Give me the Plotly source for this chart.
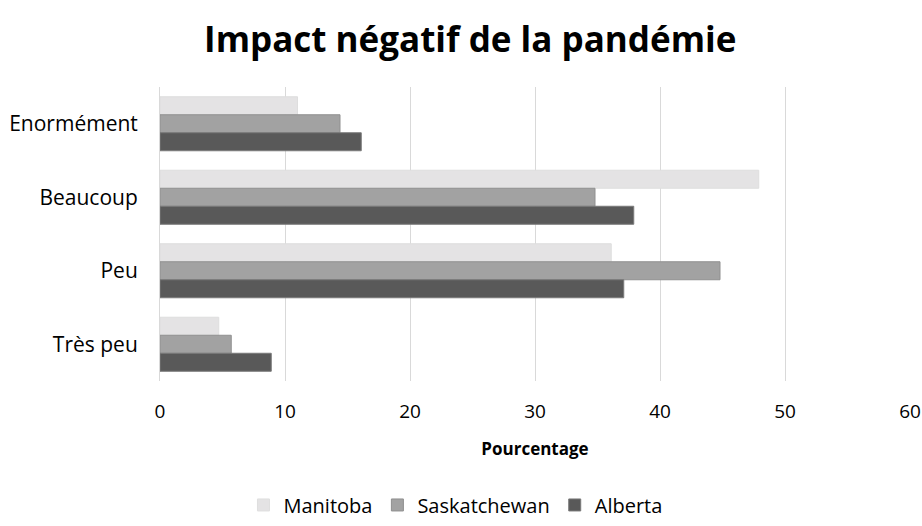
import plotly.graph_objects as go

categories = ["Enormément", "Beaucoup", "Peu", "Très peu"]
manitoba = [11.0, 47.9, 36.1, 4.7]
saskatchewan = [14.4, 34.8, 44.8, 5.7]
alberta = [16.1, 37.9, 37.1, 8.9]
x_ticks = [0, 10, 20, 30, 40, 50, 60]

series = [
    ("Manitoba", manitoba, "#e4e3e4", "#dedede"),
    ("Saskatchewan", saskatchewan, "#a2a2a2", "#909090"),
    ("Alberta", alberta, "#595959", "#7a7a7a"),
]

fig = go.Figure()
for name, vals, col, lc in series:
    fig.add_trace(go.Bar(
        y=categories, x=vals, name=name, orientation="h",
        marker=dict(color=col, line=dict(color=lc, width=1)),
    ))

font = "Open Sans, Liberation Sans, sans-serif"
fig.update_layout(
    width=922, height=526,
    margin=dict(l=160, r=12, t=87, b=145, autoexpand=False),
    paper_bgcolor="white", plot_bgcolor="white",
    barmode="group", bargap=0.265, bargroupgap=0,
    title=dict(text="<b>Impact négatif de la pandémie</b>", x=0.51, xanchor="center",
               xref="container", yref="container",
               y=0.924, yanchor="middle", font=dict(family=font, size=35, color="#000")),
    font=dict(family=font, color="#000"),
    legend=dict(orientation="h", xref="container", yref="container",
                x=0.494, xanchor="center", y=0.04, yanchor="middle",
                font=dict(size=20, color="#000"), traceorder="normal",
                itemwidth=30, tracegroupgap=0),
    xaxis=dict(range=[0, 60], tickvals=x_ticks, showgrid=True, gridcolor="#d9d9d9",
               gridwidth=1, zeroline=False, showline=False, automargin=False,
               ticks="outside", ticklen=13, tickcolor="rgba(0,0,0,0)",
               tickfont=dict(size=19, color="#000"),
               title=dict(text="<b>Pourcentage</b>", font=dict(size=17, color="#000"), standoff=20)),
    yaxis=dict(autorange="reversed", showgrid=False, showline=True, linecolor="#d9d9d9",
               linewidth=1, ticks="outside", ticklen=17, tickcolor="rgba(0,0,0,0)",
               automargin=False, tickfont=dict(size=21, color="#000")),
)
fig.write_html("out.html", config={"displayModeBar": False},
               post_script="document.body.style.margin='0';")
